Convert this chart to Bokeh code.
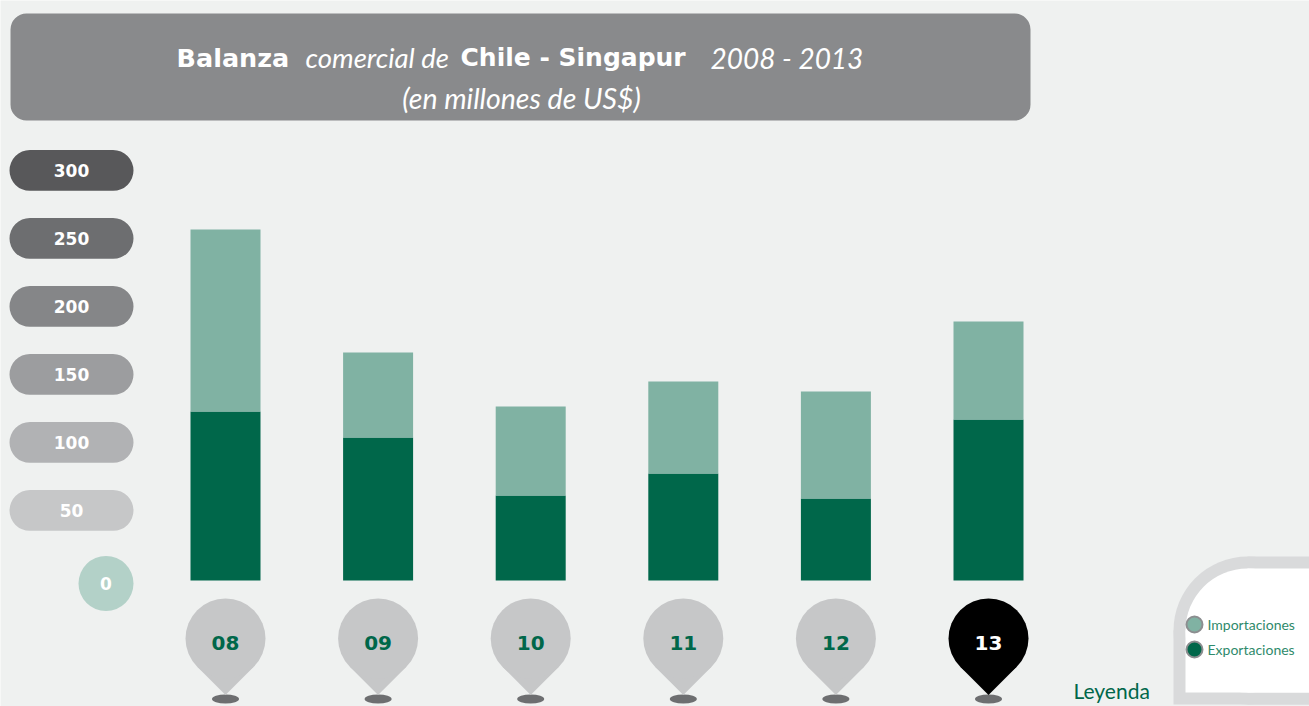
from bokeh.plotting import figure
from bokeh.models import Range1d
from bokeh.core.properties import value
from bokeh.embed import file_html
from bokeh.resources import INLINE

# ---- data ----
years = ["2008", "2009", "2010", "2011", "2012", "2013"]
year_labels = ["08", "09", "10", "11", "12", "13"]
exportaciones = [124.3, 105.1, 62.5, 78.7, 60.3, 118.4]
importaciones = [133.8, 62.5, 65.4, 67.6, 78.7, 72.0]
y_ticks = [300, 250, 200, 150, 100, 50]
y_tick_labels = ["300", "250", "200", "150", "100", "50"]
title_parts = ["Balanza", "comercial de", "Chile - Singapur", "2008 - 2013"]
subtitle = "(en millones de US$)"
legend_labels = ["Importaciones", "Exportaciones"]

# ---- style ----
BG = "#eff1f0"
C_EXP = "#00674a"
C_IMP = "#80b2a3"
FONT = "Lato"
BFONT = "DejaVu Sans"
PILL_COLORS = ["#58585a", "#6d6e70", "#858688", "#9c9d9f", "#b1b2b4", "#c6c7c8"]

W, H = 1309, 706
PX_PER_UNIT = 1.36
ZERO_Y = 580.0  # page y of value 0


def v(py):
    return (ZERO_Y - py) / PX_PER_UNIT


p = figure(width=W, height=H, output_backend="svg", toolbar_location=None,
           x_range=Range1d(0, W), y_range=Range1d(v(H), v(0)),
           min_border=0, min_border_left=0, min_border_right=0,
           min_border_top=0, min_border_bottom=0)
p.extra_y_ranges = {"px": Range1d(H, 0)}
p.background_fill_color = BG
p.border_fill_color = BG
p.outline_line_color = None
p.axis.visible = False
p.grid.visible = False

X0, STEP = 225.0, 152.6
xs = [X0 + i * STEP for i in range(len(years))]
totals = [e + m for e, m in zip(exportaciones, importaciones)]

# ---- title box ----
p.quad(left=10, right=1030, top=13, bottom=120, y_range_name="px",
       fill_color="#898a8c", line_color=None, border_radius=16)
title_x = [176, 305, 460, 710]
title_font = [BFONT, FONT, BFONT, FONT]
title_size = ["25.5px", "27.5px", "25px", "28px"]
title_style = ["bold", "italic", "bold", "italic"]
for txt, tx, fn, fs, st in zip(title_parts, title_x, title_font, title_size, title_style):
    p.text(x=[tx], y=[57], text=[txt], y_range_name="px",
           text_font=value(fn), text_font_size=fs, text_font_style=st,
           text_color="white", text_align="left", text_baseline="alphabetic")
p.text(x=[521], y=[97], text=[subtitle], y_range_name="px",
       text_font=value(FONT), text_font_size="28.5px", text_font_style="italic",
       text_color="white", text_align="center", text_baseline="alphabetic")

# ---- y pills ----
half = 15.0
p.quad(left=[9] * len(y_ticks), right=[133] * len(y_ticks),
       top=[t + 1.5 + half for t in y_ticks], bottom=[t + 1.5 - half for t in y_ticks],
       fill_color=PILL_COLORS, line_color=None, border_radius=21)
p.text(x=[71] * len(y_ticks), y=[t + 1.5 for t in y_ticks], text=y_tick_labels,
       text_font=value(BFONT), text_font_size="17px", text_font_style="bold",
       text_color="white", text_align="center", text_baseline="middle")
p.circle(x=[105.5], y=[-2.2], radius=27.5, fill_color="#b3d1c8", line_color=None)
p.text(x=[105.5], y=[-2.2], text=["0"], text_font=value(BFONT), text_font_size="17px",
       text_font_style="bold", text_color="white", text_align="center",
       text_baseline="middle")

# ---- bars ----
p.vbar(x=xs, width=70, bottom=0, top=exportaciones, fill_color=C_EXP, line_color=None)
p.vbar(x=xs, width=70, bottom=exportaciones, top=totals, fill_color=C_IMP, line_color=None)

# ---- pins ----
R, CY = 40.0, 638.0
tip = CY + R * 2 ** 0.5
d = R / 2 ** 0.5
for i, (x, lab) in enumerate(zip(xs, year_labels)):
    last = i == len(xs) - 1
    col = "#000000" if last else "#c6c7c8"
    p.ellipse(x=[x], y=[698.5], width=27, height=9, y_range_name="px",
              fill_color="#6d6e70", line_color=None)
    p.patch(x=[x - d, x, x + d], y=[CY + d, tip, CY + d], y_range_name="px",
            fill_color=col, line_color=None)
    p.circle(x=[x], y=[CY], radius=R, y_range_name="px", fill_color=col, line_color=None)
    p.text(x=[x], y=[642], text=[lab], y_range_name="px", text_font=value(BFONT),
           text_font_size="20px", text_font_style="bold",
           text_color="white" if last else C_EXP,
           text_align="center", text_baseline="middle")

# ---- legend ----
LG = "#d9dadb"
LCX, LCY, LR, LT = 1247, 630, 74, 12
for col, off in [(LG, 0), ("white", LT)]:
    p.circle(x=[LCX], y=[LCY], radius=LR - off, y_range_name="px",
             fill_color=col, line_color=None)
    p.quad(left=LCX, right=1340, top=LCY - LR + off, bottom=704 - off, y_range_name="px",
           fill_color=col, line_color=None)
    p.quad(left=LCX - LR + off, right=1340, top=LCY, bottom=704 - off, y_range_name="px",
           fill_color=col, line_color=None)
p.circle(x=[1194, 1194], y=[624, 649], radius=8, y_range_name="px",
         fill_color=[C_IMP, C_EXP], line_color="#8c8e90", line_width=2)
p.text(x=[1207, 1207], y=[624, 649], text=legend_labels, y_range_name="px",
       text_font=value(FONT), text_font_size="14px", text_color="#2f8a6b",
       text_align="left", text_baseline="middle")
p.text(x=[1073], y=[690], text=["Leyenda"], y_range_name="px",
       text_font=value(FONT), text_font_size="21px", text_color=C_EXP,
       text_align="left", text_baseline="alphabetic")

open("out.html", "w").write(file_html(p, INLINE))
